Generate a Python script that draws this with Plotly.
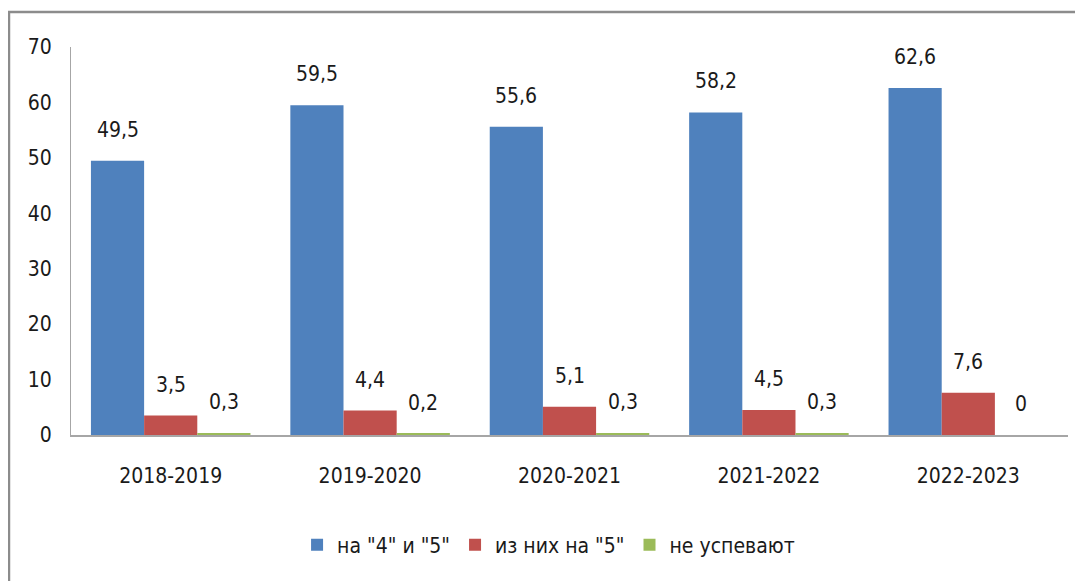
import plotly.graph_objects as go

years = ["2018-2019", "2019-2020", "2020-2021", "2021-2022", "2022-2023"]
good = [49.5, 59.5, 55.6, 58.2, 62.6]
excellent = [3.5, 4.4, 5.1, 4.5, 7.6]
failing = [0.3, 0.2, 0.3, 0.3, 0]
series_names = ['на "4" и "5"', 'из них на "5"', 'не успевают']
colors = ["#4F81BD", "#C0504D", "#9BBB59"]
y_ticks = [0, 10, 20, 30, 40, 50, 60, 70]

FONT = "DejaVu Sans Condensed, Liberation Sans Narrow, sans-serif"
FS = 21

fig = go.Figure()
all_series = [good, excellent, failing]
for name, vals, col in zip(series_names, all_series, colors):
    fig.add_trace(go.Bar(x=years, y=vals, name=name, marker=dict(color=col, line=dict(width=0))))

bw = 0.8 / 3
annotations = []
for si, vals in enumerate(all_series):
    off = (si - 1) * bw
    for ci, v in enumerate(vals):
        annotations.append(dict(
            x=ci + off, y=v, xref="x", yref="y",
            text=f"{v:g}".replace(".", ","), showarrow=False,
            yanchor="middle", yshift=31,
            font=dict(family=FONT, size=FS, color="#1a1a1a")))

# page body has an 8px margin, so figure is shrunk by 8px and margins shifted
fig.update_layout(
    barmode="group", bargap=0.2, bargroupgap=0,
    width=1075, height=573,
    margin=dict(l=63, r=15, t=39, b=146),
    paper_bgcolor="white", plot_bgcolor="white",
    font=dict(family=FONT, size=FS, color="#1a1a1a"),
    showlegend=True,
    legend=dict(orientation="h", x=0.479, xanchor="center", y=-0.2835, yanchor="middle",
                font=dict(family=FONT, size=FS, color="#1a1a1a"),
                itemwidth=30, tracegroupgap=0, traceorder="normal"),
    annotations=annotations,
    shapes=[dict(type="rect", xref="paper", yref="paper",
                 x0=-0.0622, x1=1.2, y0=-0.6, y1=1.0902,
                 line=dict(color="#8c8c8c", width=2.5), fillcolor="rgba(0,0,0,0)", layer="below")],
)
fig.update_yaxes(range=[0, 70], tickvals=y_ticks, showgrid=False, zeroline=False,
                 showline=True, linecolor="#a6a6a6", linewidth=1.2, ticks="",
                 ticklabelstandoff=14, tickfont=dict(family=FONT, size=FS, color="#1a1a1a"))
fig.update_xaxes(showgrid=False, showline=True, linecolor="#a6a6a6", linewidth=2, ticks="",
                 ticklabelstandoff=21, tickfont=dict(family=FONT, size=FS, color="#1a1a1a"))

fig.write_html("out.html")
